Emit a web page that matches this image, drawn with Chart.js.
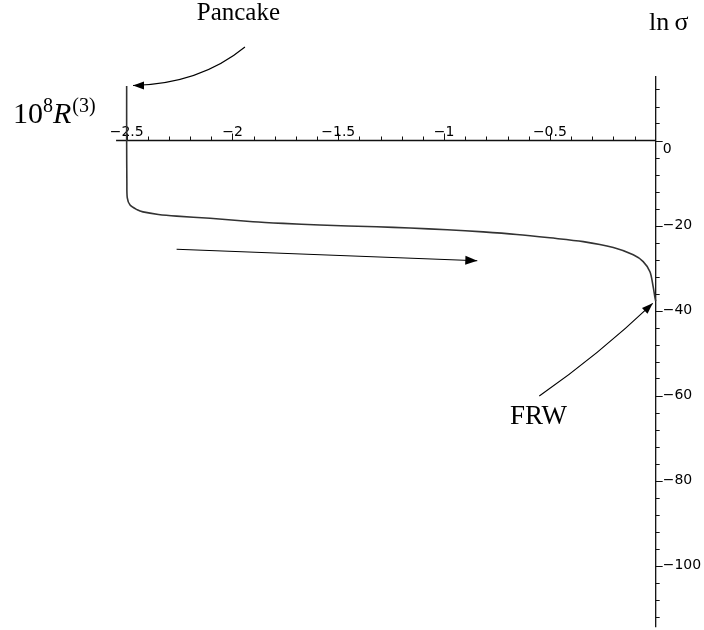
<!DOCTYPE html>
<html>
<head>
<meta charset="utf-8">
<style>
  html, body { margin: 0; padding: 0; background: #fff; }
  canvas { display: block; }
</style>
<script src="https://cdn.jsdelivr.net/npm/chart.js@4.4.1/dist/chart.umd.min.js"></script>
</head>
<body>
<canvas id="myChart" width="704" height="630"></canvas>
<script>
// Valeurs de la courbe (axe horizontal : 10^8 R^(3), axe vertical : ln sigma)
const r3 = [-2.5, -2.5, -2.499, -2.497, -2.484, -2.45, -2.423, -2.35, -2.264, -2.106,
            -1.903, -1.761, -1.587, -1.319, -1.161, -0.985, -0.815, -0.657, -0.5,
            -0.342, -0.2, -0.106, -0.059, -0.027, -0.012, -0.004, 0];
const lnSigma = [12.8, 0, -10, -13.5, -15.2, -16.3, -16.8, -17.4, -17.8, -18.3,
                 -19.1, -19.5, -19.9, -20.3, -20.6, -21.0, -21.5, -22.1, -22.9,
                 -23.8, -25.2, -26.9, -28.5, -30.9, -34.4, -36.8, -37.8];

// Graduations
const xMajorTicks = [-2.5, -2, -1.5, -1, -0.5];
const xTickLabels = ['\u22122.5', '\u22122', '\u22121.5', '\u22121', '\u22120.5'];
const yMajorTicks = [0, -20, -40, -60, -80, -100];
const yTickLabels = ['0', '\u221220', '\u221240', '\u221260', '\u221280', '\u2212100'];
const xMinorStep = 0.1;
const yMinorStep = 4;
const xAxisRange = [-2.55, 0];
const yAxisRange = [-114.5, 15.2];

// Annotations (en coordonnées des données)
const pancakeArrow = [[-1.941, 22.0], [-2.154, 13.3], [-2.47, 12.94]];
const flowArrow = [[-2.264, -25.6], [-0.843, -28.3]];
const frwArrow = [[-0.55, -60.1], [-0.27, -50.4], [-0.014, -38.3]];

const serif = '"Liberation Serif", "Times New Roman", serif';
const tickFont = '14px "DejaVu Sans", sans-serif';

function arrowHead(ctx, fromX, fromY, toX, toY, len, half) {
    const a = Math.atan2(toY - fromY, toX - fromX);
    ctx.beginPath();
    ctx.moveTo(toX, toY);
    ctx.lineTo(toX - len * Math.cos(a) + half * Math.sin(a), toY - len * Math.sin(a) - half * Math.cos(a));
    ctx.lineTo(toX - len * Math.cos(a) - half * Math.sin(a), toY - len * Math.sin(a) + half * Math.cos(a));
    ctx.closePath();
    ctx.fill();
}

const mapleAxes = {
    id: 'mapleAxes',
    beforeDatasetsDraw(chart) {
        const ctx = chart.ctx;
        const xs = chart.scales.x, ys = chart.scales.y;
        const x0 = xs.getPixelForValue(0), y0 = ys.getPixelForValue(0);
        ctx.save();
        ctx.strokeStyle = '#111';
        ctx.fillStyle = '#000';
        ctx.lineWidth = 1.3;
        // axes
        ctx.beginPath();
        ctx.moveTo(xs.getPixelForValue(xAxisRange[0]), y0);
        ctx.lineTo(xs.getPixelForValue(xAxisRange[1]), y0);
        ctx.moveTo(x0, ys.getPixelForValue(yAxisRange[1]));
        ctx.lineTo(x0, ys.getPixelForValue(yAxisRange[0]));
        ctx.stroke();
        // petites graduations
        ctx.lineWidth = 1;
        ctx.beginPath();
        for (let v = -2.5; v < -0.05; v += xMinorStep) {
            const px = Math.round(xs.getPixelForValue(v)) + 0.5;
            ctx.moveTo(px, y0);
            ctx.lineTo(px, y0 - 4);
        }
        for (let v = 12; v > yAxisRange[0]; v -= yMinorStep) {
            const py = Math.round(ys.getPixelForValue(v)) + 0.5;
            ctx.moveTo(x0, py);
            ctx.lineTo(x0 + 4, py);
        }
        ctx.stroke();
        // grandes graduations + étiquettes
        ctx.font = tickFont;
        ctx.beginPath();
        xMajorTicks.forEach(v => {
            const px = Math.round(xs.getPixelForValue(v)) + 0.5;
            ctx.moveTo(px, y0);
            ctx.lineTo(px, y0 - 7);
        });
        yMajorTicks.forEach(v => {
            const py = Math.round(ys.getPixelForValue(v)) + 0.5;
            ctx.moveTo(x0, py);
            ctx.lineTo(x0 + 7, py);
        });
        ctx.stroke();
        ctx.textAlign = 'center';
        ctx.textBaseline = 'alphabetic';
        xMajorTicks.forEach((v, i) => {
            ctx.fillText(xTickLabels[i], xs.getPixelForValue(v), y0 - 5);
        });
        ctx.textAlign = 'left';
        ctx.textBaseline = 'middle';
        yMajorTicks.forEach((v, i) => {
            const dy = v === 0 ? 9 : 0;
            ctx.fillText(yTickLabels[i], x0 + 7, ys.getPixelForValue(v) + dy);
        });
        ctx.restore();
    },
    afterDraw(chart) {
        const ctx = chart.ctx;
        const xs = chart.scales.x, ys = chart.scales.y;
        const P = p => [xs.getPixelForValue(p[0]), ys.getPixelForValue(p[1])];
        ctx.save();
        ctx.strokeStyle = '#000';
        ctx.fillStyle = '#000';
        ctx.lineWidth = 1.1;

        // flèche Pancake
        let [a, b, c] = pancakeArrow.map(P);
        ctx.beginPath();
        ctx.moveTo(a[0], a[1]);
        ctx.quadraticCurveTo(b[0], b[1], c[0], c[1]);
        ctx.stroke();
        arrowHead(ctx, b[0], c[1], c[0], c[1], 11, 4);

        // flèche de sens
        [a, b] = flowArrow.map(P);
        ctx.beginPath();
        ctx.moveTo(a[0], a[1]);
        ctx.lineTo(b[0], b[1]);
        ctx.stroke();
        arrowHead(ctx, a[0], a[1], b[0], b[1], 12, 4.5);

        // flèche FRW
        [a, b, c] = frwArrow.map(P);
        ctx.beginPath();
        ctx.moveTo(a[0], a[1]);
        ctx.quadraticCurveTo(b[0], b[1], c[0], c[1]);
        ctx.stroke();
        arrowHead(ctx, b[0], b[1], c[0], c[1], 11, 4);

        // textes
        ctx.textBaseline = 'alphabetic';
        ctx.textAlign = 'center';
        ctx.font = '25px ' + serif;
        let p = P([-1.972, 28.4]);
        ctx.fillText('Pancake', p[0], p[1]);
        ctx.font = '27px ' + serif;
        p = P([-0.554, -66.8]);
        ctx.fillText('FRW', p[0], p[1]);

        ctx.textAlign = 'left';
        ctx.font = '26px ' + serif;
        p = P([-0.0317, 26.0]);
        ctx.fillText('ln\u2009\u03c3', p[0], p[1]);

        // 10^8 R^(3)
        p = P([-3.037, 4.1]);
        let x = p[0];
        const base = p[1];
        ctx.font = '30px ' + serif;
        ctx.fillText('10', x, base); x += ctx.measureText('10').width;
        ctx.font = '20px ' + serif;
        ctx.fillText('8', x, base - 11); x += ctx.measureText('8').width;
        ctx.font = 'italic 30px ' + serif;
        ctx.fillText('R', x, base); x += ctx.measureText('R').width + 1;
        ctx.font = '20px ' + serif;
        ctx.fillText('(3)', x, base - 11);
        ctx.restore();
    }
};

const ctx = document.getElementById('myChart').getContext('2d');
const myChart = new Chart(ctx, {
    type: 'scatter',
    data: {
        datasets: [{
            data: r3.map((x, i) => ({ x: x, y: lnSigma[i] })),
            showLine: true,
            borderColor: '#333',
            borderWidth: 1.6,
            pointRadius: 0,
            tension: 0.3,
            fill: false
        }]
    },
    options: {
        responsive: false,
        animation: false,
        devicePixelRatio: 1,
        layout: { padding: { left: 105.5, right: 6, top: 55.5, bottom: 0.75 } },
        plugins: { legend: { display: false }, tooltip: { enabled: false } },
        scales: {
            x: { type: 'linear', min: -2.6, max: 0.2, display: false },
            y: { type: 'linear', min: -115, max: 20, display: false }
        }
    },
    plugins: [mapleAxes]
});
</script>
</body>
</html>
